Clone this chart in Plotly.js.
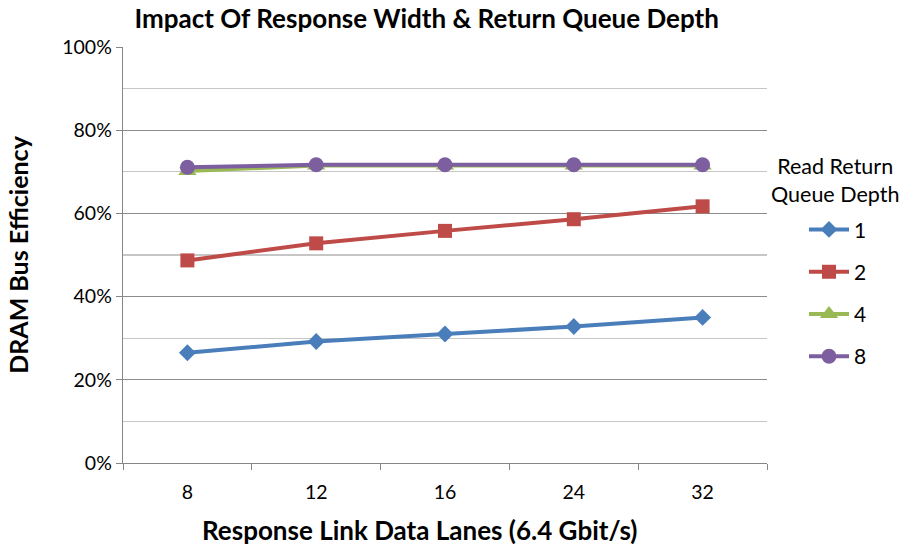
<!DOCTYPE html>
<html><head><meta charset="utf-8">
<script src="https://cdn.plot.ly/plotly-3.0.1.min.js"></script>
<style>html,body{margin:0;padding:0;background:#fff}#chart{width:904px;height:552px}</style>
</head><body><div id="chart"></div>
<script>
const categories = ['8', '12', '16', '24', '32'];
const seriesNames = ['1', '2', '4', '8'];
const depth1 = [26.5, 29.2, 31.0, 32.8, 35.0];
const depth2 = [48.7, 52.8, 55.8, 58.6, 61.7];
const depth4 = [70.2, 71.5, 71.5, 71.5, 71.5];
const depth8 = [71.1, 71.7, 71.7, 71.7, 71.7];
const yTickVals = [0, 20, 40, 60, 80, 100];
const yTickText = ['0%', '20%', '40%', '60%', '80%', '100%'];

const colors = ['#4a7ebb', '#be4b48', '#98b954', '#7d5fa0'];
const symbols = ['diamond', 'square', 'triangle-up', 'circle'];
const sizes = [13, 14, 16, 15];
const allSeries = [depth1, depth2, depth4, depth8];

const font = 'Lato, "Open Sans", sans-serif';
const traces = allSeries.map((vals, i) => ({
  type: 'scatter', mode: 'lines+markers',
  x: categories, y: vals, name: seriesNames[i],
  legendgroup: 'g' + i,
  line: {color: colors[i], width: 4},
  marker: {color: colors[i], symbol: symbols[i], size: sizes[i]}
}));
const layout = {
  width: 904, height: 552,
  margin: {l: 123, r: 137, t: 47, b: 89},
  paper_bgcolor: '#fff', plot_bgcolor: '#fff',
  font: {family: font, color: '#000', size: 19},
  title: {text: '<b>Impact Of Response Width & Return Queue Depth</b>',
          font: {family: font, size: 26, color: '#000'},
          x: 0.472, xanchor: 'center', xref: 'container', y: 0.965, yanchor: 'middle', yref: 'container'},
  xaxis: {
    type: 'category', range: [-0.5, 4.5],
    showgrid: false, showline: true, linecolor: '#868686', linewidth: 1.3,
    ticks: 'outside', tickson: 'boundaries', ticklen: 6, tickcolor: '#868686',
    ticklabelstandoff: 11,
    tickfont: {size: 19.5, family: font},
    zeroline: false, fixedrange: true
  },
  yaxis: {
    range: [0, 100], tickvals: yTickVals, ticktext: yTickText,
    showgrid: true, gridcolor: '#8c8c8c', gridwidth: 1.3,
    minor: {dtick: 10, showgrid: true, gridcolor: '#c6c6c6', gridwidth: 1.3, ticks: ''},
    showline: true, linecolor: '#868686', linewidth: 1.3,
    ticks: 'outside', ticklen: 6, tickcolor: '#868686',
    tickfont: {size: 19.5, family: font},
    title: {text: '<b>DRAM Bus Efficiency</b>', font: {size: 25, family: font}, standoff: 26},
    zeroline: false, fixedrange: true
  },
  legend: {
    x: (804 - 123) / 644, xref: 'paper', y: 0.61, yanchor: 'top',
    font: {size: 21, family: font}, tracegroupgap: 12, itemwidth: 40,
    bgcolor: 'rgba(0,0,0,0)'
  },
  annotations: [{
    text: 'Read Return<br>Queue Depth', xref: 'paper', yref: 'paper',
    x: (835 - 123) / 644, y: (463 - 180) / 416, xanchor: 'center', yanchor: 'middle', showarrow: false,
    font: {size: 21.5, family: font, color: '#000'}
  }, {
    text: '<b>Response Link Data Lanes (6.4 Gbit/s)</b>', xref: 'paper', yref: 'paper',
    x: (420 - 123) / 644, y: (463 - 530) / 416, xanchor: 'center', yanchor: 'middle', showarrow: false,
    font: {size: 26, family: font, color: '#000'}
  }],
  showlegend: true
};
Plotly.newPlot('chart', traces, layout, {displayModeBar: false, staticPlot: true});
</script></body></html>
